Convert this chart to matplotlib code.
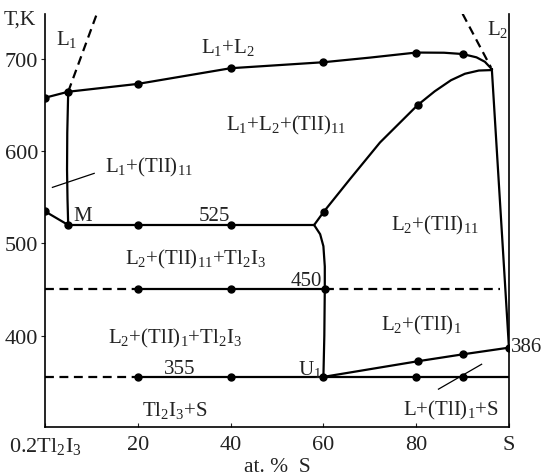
import matplotlib
matplotlib.use('Agg')
import matplotlib.pyplot as plt

plt.rcParams['font.family'] = ['Liberation Serif', 'DejaVu Serif']
plt.rcParams['mathtext.fontset'] = 'custom'
plt.rcParams['mathtext.rm'] = 'Liberation Serif'
plt.rcParams['mathtext.it'] = 'Liberation Serif:italic'

# liquidus L1+L2 (upper boundary of the miscibility gap)
top_x = [0, 5, 20, 40, 60, 70, 80, 86, 90, 93, 94.8, 96.3]
top_T = [658, 664.5, 673, 690, 696.5, 701.5, 707, 706.8, 705.4, 701.8, 697, 689]
top_dots_x = [0, 5, 20, 40, 60, 80, 90]
top_dots_T = [658, 664.5, 673, 690, 696.5, 707, 705.4]

# lower boundary of L1+L2+(TlI)11
dome_x = [58, 60.1, 65.7, 72.2, 80.3, 84, 87.5, 90.5, 93.5, 96.3]
dome_T = [520, 534.5, 569.6, 609.5, 650, 665, 677, 684, 687.5, 688]
dome_dots_x = [60.1, 80.3]
dome_dots_T = [534.5, 650]

# right boundary down to 386 K
right_x = [96.3, 100]
right_T = [689, 386]

# boundary from the L1 corner down to M
m_x = [5, 4.8, 4.75, 4.85, 5]
m_T = [664.5, 620, 580, 548, 520]

# dashed liquidus branches
l1_x = [5, 11.1]
l1_T = [664.5, 748]
l2_x = [90, 96.1]
l2_T = [749, 691]

# monotectic at 520 K (label 525)
mono_T = 520
mono_x = [5, 58]
mono_dots_x = [5, 20, 40]
left_x = [0, 5]
left_T = [534.8, 520]

# 450 K line
t450 = 451
t450_dots_x = [20, 40, 60.3]

# vertical boundary near 60 %
vert_x = [58, 59.3, 60, 60.3, 60.3, 60.2, 60]
vert_T = [520, 510, 497, 475, 451, 400, 355.3]

# 355 K line and U1 - 386 line
t355 = 355.3
t355_dots_x = [20, 40, 60, 80, 90]
up_x = [60, 80.4, 90.1, 100]
up_T = [355.3, 372.3, 379.8, 387]

x_ticks = [0, 20, 40, 60, 80, 100]
x_labels = [r'0.2Tl$_2$I$_3$', '20', '40', '60', '80', 'S']
y_ticks = [400, 500, 600, 700]

fig = plt.figure(figsize=(5.46, 4.77), dpi=100)
ax = fig.add_axes([45 / 546, 1 - 427.5 / 477, 464 / 546, 412.5 / 477])

lw = 1.6
k = 'black'
dash = (0, (4, 2.5))
ax.plot(top_x, top_T, c=k, lw=lw)
ax.plot(dome_x, dome_T, c=k, lw=lw)
ax.plot(right_x, right_T, c=k, lw=lw)
ax.plot(m_x, m_T, c=k, lw=lw)
ax.plot(l1_x, l1_T, c=k, lw=lw, ls=dash)
ax.plot(l2_x, l2_T, c=k, lw=lw, ls=dash)
ax.plot(mono_x, [mono_T] * 2, c=k, lw=lw)
ax.plot(left_x, left_T, c=k, lw=lw)
ax.plot([0, 20], [t450] * 2, c=k, lw=lw, ls=dash)
ax.plot([20, 60.3], [t450] * 2, c=k, lw=lw)
ax.plot([60.3, 98.1], [t450] * 2, c=k, lw=lw, ls=dash)
ax.plot(vert_x, vert_T, c=k, lw=lw)
ax.plot([0, 20], [t355] * 2, c=k, lw=lw, ls=dash)
ax.plot([20, 100], [t355] * 2, c=k, lw=lw)
ax.plot(up_x, up_T, c=k, lw=lw)

ms = 5
ax.plot(top_dots_x, top_dots_T, 'o', c=k, ms=ms)
ax.plot(dome_dots_x, dome_dots_T, 'o', c=k, ms=ms)
ax.plot(mono_dots_x, [mono_T] * 3, 'o', c=k, ms=ms)
ax.plot([0], [534.8], 'o', c=k, ms=ms)
ax.plot(t450_dots_x, [t450] * 3, 'o', c=k, ms=ms)
ax.plot(t355_dots_x, [t355] * 5, 'o', c=k, ms=ms)
ax.plot(up_x[1:], up_T[1:], 'o', c=k, ms=ms)

# leader lines
ax.plot([1.6, 10.6], [560.8, 576], c=k, lw=0.9)
ax.plot([84.8, 94.1], [342, 369], c=k, lw=0.9)

fs = 15
c = '#222222'
ax.text(2.3, 716, r'L$_1$', fontsize=fs, color=c)
ax.text(39.4, 708, r'L$_1$+L$_2$', fontsize=fs, color=c, ha='center')
ax.text(95.2, 727, r'L$_2$', fontsize=fs, color=c)
ax.text(52, 624, r'L$_1$+L$_2$+(TlI)$_{11}$', fontsize=fs, color=c, ha='center')
ax.text(13, 578, r'L$_1$+(TlI)$_{11}$', fontsize=fs, color=c)
ax.text(6.2, 525, 'M', fontsize=fs, color=c)
ax.text(36.5, 525, '525', fontsize=fs, color=c, ha='center')
ax.text(84, 515, r'L$_2$+(TlI)$_{11}$', fontsize=fs, color=c, ha='center')
ax.text(32.5, 478, r'L$_2$+(TlI)$_{11}$+Tl$_2$I$_3$', fontsize=fs, color=c, ha='center')
ax.text(59.8, 455, '450', fontsize=fs, color=c, ha='right')
ax.text(28, 393, r'L$_2$+(TlI)$_1$+Tl$_2$I$_3$', fontsize=fs, color=c, ha='center')
ax.text(81, 407, r'L$_2$+(TlI)$_1$', fontsize=fs, color=c, ha='center')
ax.text(100.5, 383, '386', fontsize=fs, color=c)
ax.text(59.6, 358, r'U$_1$', fontsize=fs, color=c, ha='right')
ax.text(29, 359, '355', fontsize=fs, color=c, ha='center')
ax.text(28, 314, r'Tl$_2$I$_3$+S', fontsize=fs, color=c, ha='center')
ax.text(87.5, 314, r'L+(TlI)$_1$+S', fontsize=fs, color=c, ha='center')

ax.set_xlim(0, 100)
ax.set_ylim(301.5, 748.8)
ax.spines['top'].set_visible(False)
for s in ['left', 'right', 'bottom']:
    ax.spines[s].set_linewidth(1.2)

ax.set_xticks(x_ticks)
ax.set_xticklabels(x_labels)
ax.set_yticks(y_ticks)
ax.tick_params(axis='x', direction='in', length=3, labelsize=16, pad=6, colors=c)
ax.tick_params(axis='y', direction='out', length=3, labelsize=16, pad=2, colors=c)
ax.set_xlabel('at. %  S', fontsize=15.5, color=c, labelpad=1)
fig.text(4 / 546, 1 - 20 / 477, 'T,K', fontsize=15.5, color=c, va='center')

fig.savefig('out.png', dpi=100)
